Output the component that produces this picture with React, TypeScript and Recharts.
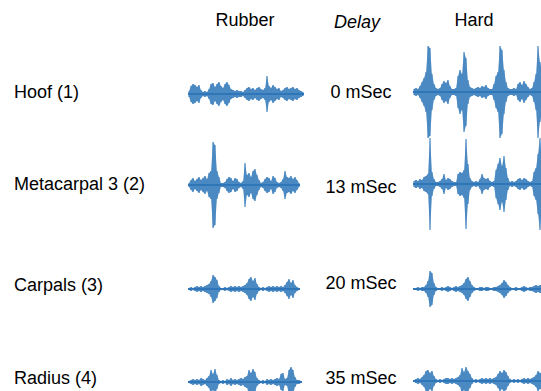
import React from 'react';
import { Area, Bar, ComposedChart, XAxis, YAxis } from 'recharts';

// envelope amplitudes (half-height) of each recording, sampled evenly along the trace
const rubberHoof = [3,8,10,9,7,9,4,2,3,2,5,10,11,7,10,12,8,6,10,12,9,5,4,3,4,3,3,2,4,6,7,5,6,4,6,7,5,4,6,18,8,6,9,7,5,6,3,4,6,7,5,6,7,5,6,4,3,2];
const hardHoof = [3,4,3,6,10,14,20,46,44,18,8,4,3,4,8,11,9,12,6,3,3,4,16,22,18,40,34,12,5,4,3,4,5,4,6,5,7,4,3,3,8,16,20,46,42,22,10,4,3,3,4,3,8,10,7,11,8,5,3,4,10,18,46,30,20];
const rubberMeta = [2,5,7,4,6,8,5,7,9,6,12,14,43,40,14,8,2,2,3,6,8,7,4,7,6,3,2,4,22,10,12,8,14,16,10,5,2,3,6,8,7,4,9,7,3,2,3,6,14,8,7,9,6,8,5,2];
const hardMeta = [3,4,3,5,4,7,8,10,46,12,5,2,2,3,5,10,4,6,5,3,2,2,10,12,11,14,45,20,6,3,2,3,2,5,10,6,5,6,3,2,3,14,20,26,18,28,16,6,2,3,2,3,5,6,4,6,5,3,2,3,12,16,30,46,20];
const rubberCarpals = [1,2,1,2,3,2,3,2,3,4,5,8,14,12,9,3,1,1,2,1,2,3,2,3,2,3,2,3,4,6,10,12,8,11,5,2,1,2,1,2,3,2,3,2,3,2,3,2,4,7,10,6,9,4,2,1];
const hardCarpals = [1,1,2,1,2,2,4,8,18,16,6,2,1,1,2,1,2,3,2,1,2,3,2,3,4,6,10,12,8,4,2,1,1,2,2,1,2,2,1,1,2,2,3,4,6,9,7,4,2,1,1,2,1,1,2,3,2,1,2,2,3,4,3,4,3];
const rubberRadius = [1,2,3,2,3,2,4,3,2,4,6,12,8,13,7,2,1,2,1,3,2,4,2,3,2,3,4,3,5,6,12,9,13,10,4,2,1,2,1,3,2,3,2,3,4,3,8,9,3,4,12,15,12,5,2,2,1];
const hardRadius = [1,2,3,2,4,6,10,11,8,10,5,2,1,2,1,2,3,3,2,3,2,3,4,6,13,9,14,10,7,3,1,2,1,2,3,2,3,2,3,2,3,4,7,10,8,11,9,5,2,1,2,1,2,1,2,3,2,3,2,3,4,6,10,8,9];

const rowLabels = ['Hoof (1)', 'Metacarpal 3 (2)', 'Carpals (3)', 'Radius (4)'];
const delays = ['0 mSec', '13 mSec', '20 mSec', '35 mSec'];
const rubberRows = [rubberHoof, rubberMeta, rubberCarpals, rubberRadius];
const hardRows = [hardHoof, hardMeta, hardCarpals, hardRadius];

const labelY = [92, 184, 285, 378];
const delayY = [92, 187, 283, 378];
const rubberY = [94, 185, 289, 382];
const hardY = [92, 184, 289, 381];

const BLUE = '#2f76b8';
const font = '"Liberation Sans", Arial, sans-serif';

function Trace({ amps, left, cy, width }: { amps: number[]; left: number; cy: number; width: number }) {
  const data = amps.map((a, i) => ({ i, r: [-a, a] }));
  return (
    <div style={{ position: 'absolute', left, top: cy - 50 }}>
      <ComposedChart width={width} height={100} data={data} margin={{ top: 0, right: 0, bottom: 0, left: 0 }}
        barCategoryGap="25%">
        <XAxis dataKey="i" hide />
        <YAxis hide domain={[-50, 50]} />
        <Area type="linear" dataKey="r" stroke="none" fill={BLUE} fillOpacity={0.72} isAnimationActive={false} dot={false} activeDot={false} />
        <Bar dataKey="r" fill={BLUE} isAnimationActive={false} />
      </ComposedChart>
      <div style={{ position: 'absolute', left: 0, top: 49.4, width, height: 1.2, background: BLUE }} />
    </div>
  );
}

function Txt({ x, y, children, center, italic }: { x: number; y: number; children: React.ReactNode; center?: boolean; italic?: boolean }) {
  return (
    <div style={{
      position: 'absolute', left: x, top: y, transform: center ? 'translate(-50%,-50%)' : 'translateY(-50%)',
      fontFamily: font, fontSize: 18, lineHeight: '22px', whiteSpace: 'nowrap', color: '#000',
      fontStyle: italic ? 'italic' : 'normal',
    }}>{children}</div>
  );
}

export default function App() {
  return (
    <div style={{ position: 'fixed', left: 0, top: 0, width: 541, height: 391, overflow: 'hidden', background: '#fff' }}>
      <Txt x={245} y={20} center>Rubber</Txt>
      <Txt x={357} y={22} center italic>Delay</Txt>
      <Txt x={474} y={20} center>Hard</Txt>
      {rowLabels.map((l, k) => <Txt key={l} x={14} y={labelY[k]}>{l}</Txt>)}
      {delays.map((d, k) => <Txt key={d} x={361} y={delayY[k]} center>{d}</Txt>)}
      {rubberRows.map((a, k) => <Trace key={'r' + k} amps={a} left={188} cy={rubberY[k]} width={a.length * 2} />)}
      {hardRows.map((a, k) => <Trace key={'h' + k} amps={a} left={413} cy={hardY[k]} width={a.length * 2} />)}
    </div>
  );
}
